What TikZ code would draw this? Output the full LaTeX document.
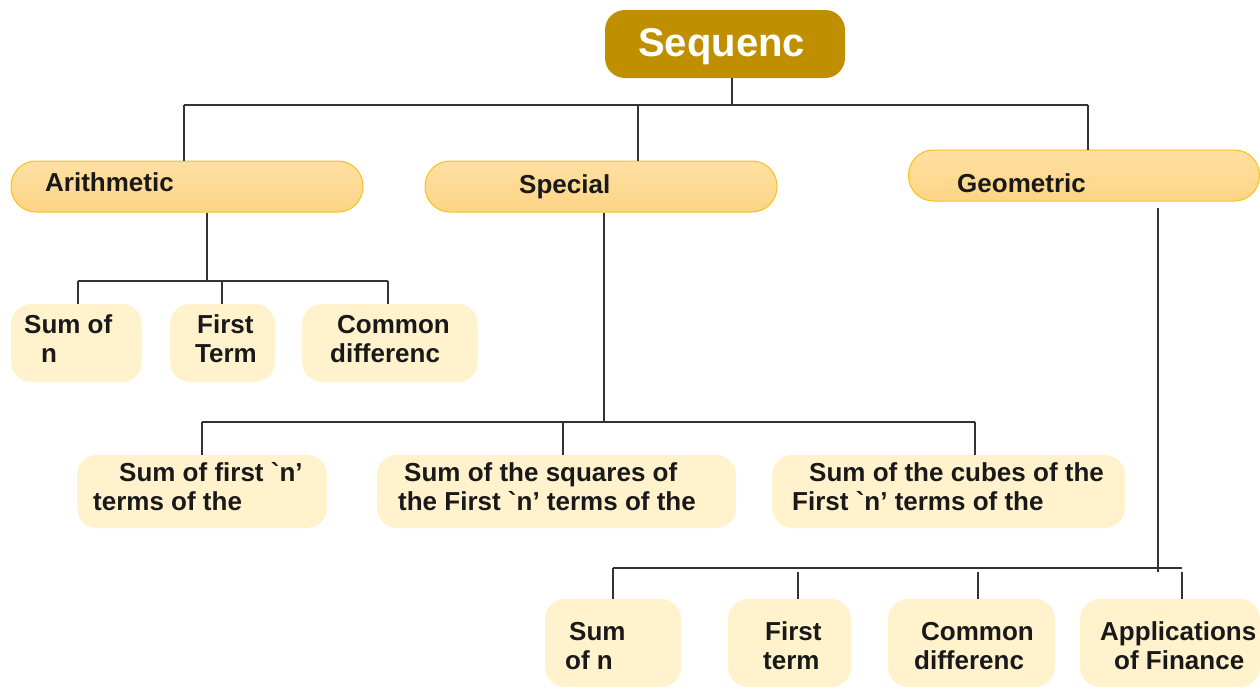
\documentclass[tikz,border=0pt]{standalone}
\usepackage{fontspec}
\setmainfont{Liberation Sans}[Ligatures=TeXOff]
\definecolor{topfill}{HTML}{C08F00}
\definecolor{lvlfillA}{HTML}{FFE0A2}
\definecolor{lvlfillB}{HTML}{FCD486}
\definecolor{lvlborder}{HTML}{F5C21C}
\definecolor{leaffill}{HTML}{FFF2CC}
\definecolor{linec}{HTML}{333333}
\tikzset{
  topbox/.style={draw=none, fill=topfill, rounded corners=20pt, inner sep=0pt},
  lvlbox/.style={draw=lvlborder, line width=1pt, top color=lvlfillA, bottom color=lvlfillB, rounded corners=25pt, inner sep=0pt},
  leafbox/.style={draw=none, fill=leaffill, rounded corners=20pt, inner sep=0pt},
  txt/.style={anchor=base west, inner sep=0pt, font=\bfseries\fontsize{26}{29}\selectfont, text=black!90},
  conn/.style={draw=linec, line width=1.2pt},
}
\newcommand{\gq}{\symbol{96}}
\begin{document}
\begin{tikzpicture}[x=1pt,y=-1pt]
\useasboundingbox (0,0) rectangle (1260,688);
% boxes
\node[topbox, minimum width=240pt, minimum height=68pt] (seq) at (725,44) {};
\node[lvlbox, minimum width=352pt, minimum height=51pt] (arith) at (187,186.5) {};
\node[lvlbox, minimum width=352pt, minimum height=51pt] (spec) at (601,186.5) {};
\node[lvlbox, minimum width=351pt, minimum height=51pt] (geo) at (1084,175.5) {};
\node[leafbox, minimum width=131pt, minimum height=78pt] (a1) at (76.5,343) {};
\node[leafbox, minimum width=105pt, minimum height=78pt] (a2) at (222.5,343) {};
\node[leafbox, minimum width=176pt, minimum height=78pt] (a3) at (390,343) {};
\node[leafbox, minimum width=250pt, minimum height=73pt] (s1) at (202,491.5) {};
\node[leafbox, minimum width=359pt, minimum height=73pt] (s2) at (556.5,491.5) {};
\node[leafbox, minimum width=353pt, minimum height=73pt] (s3) at (948.5,491.5) {};
\node[leafbox, minimum width=136pt, minimum height=88pt] (g1) at (613,643) {};
\node[leafbox, minimum width=123pt, minimum height=88pt] (g2) at (789.5,643) {};
\node[leafbox, minimum width=167pt, minimum height=88pt] (g3) at (971.5,643) {};
\node[leafbox, minimum width=180pt, minimum height=88pt] (g4) at (1170,643) {};
% texts
\node[txt, text=white, font=\bfseries\fontsize{40}{44}\selectfont] (tseq) at (638,56) {Sequenc};
\node[txt] (tarith) at (45,191) {Arithmetic};
\node[txt] (tspec) at (519,193) {Special};
\node[txt] (tgeo) at (957,192) {Geometric};
\node[txt] (ta1a) at (24,333) {Sum of};
\node[txt] (ta1b) at (41,362) {n};
\node[txt] (ta2a) at (197,333) {First};
\node[txt] (ta2b) at (195,362) {Term};
\node[txt] (ta3a) at (337,333) {Common};
\node[txt] (ta3b) at (330,362) {differenc};
\node[txt] (ts1a) at (119,481) {Sum of first \gq n’};
\node[txt] (ts1b) at (93,510) {terms of the};
\node[txt] (ts2a) at (404,481) {Sum of the squares of};
\node[txt] (ts2b) at (398,510) {the First \gq n’ terms of the};
\node[txt] (ts3a) at (809,481) {Sum of the cubes of the};
\node[txt] (ts3b) at (792,510) {First \gq n’ terms of the};
\node[txt] (tg1a) at (569,640) {Sum};
\node[txt] (tg1b) at (565,669) {of n};
\node[txt] (tg2a) at (765,640) {First};
\node[txt] (tg2b) at (763,669) {term};
\node[txt] (tg3a) at (921,640) {Common};
\node[txt] (tg3b) at (914,669) {differenc};
\node[txt] (tg4a) at (1100,640) {Applications};
\node[txt] (tg4b) at (1114,669) {of Finance};
% junctions
\coordinate (j0) at (732,105);
\coordinate (j0l) at (184,105);
\coordinate (j0m) at (638,105);
\coordinate (j0r) at (1088,105);
\coordinate (ja) at (207,281);
\coordinate (jal) at (78,281);
\coordinate (jam) at (222,281);
\coordinate (jar) at (388,281);
\coordinate (js) at (604,422);
\coordinate (jsl) at (202,422);
\coordinate (jsm) at (563,422);
\coordinate (jsr) at (975,422);
\coordinate (jgtop) at (1158,208);
\coordinate (jg) at (1158,572);
\coordinate (jgl) at (613,568);
\coordinate (jgr) at (1182,568);
\coordinate (jg2) at (798,572);
\coordinate (jg3) at (978,572);
\coordinate (jg4) at (1182,572);
% connectors
\draw[conn] (seq.south -| j0) -- (j0);
\draw[conn] (j0l) -- (j0r);
\draw[conn] (j0l) -- (j0l |- arith.north);
\draw[conn] (j0m) -- (j0m |- spec.north);
\draw[conn] (j0r) -- (j0r |- geo.north);
\draw[conn] (arith.south -| ja) -- (ja);
\draw[conn] (jal) -- (jar);
\draw[conn] (jal) -- (jal |- a1.north);
\draw[conn] (jam) -- (jam |- a2.north);
\draw[conn] (jar) -- (jar |- a3.north);
\draw[conn] (spec.south -| js) -- (js);
\draw[conn] (jsl) -- (jsr);
\draw[conn] (jsl) -- (jsl |- s1.north);
\draw[conn] (jsm) -- (jsm |- s2.north);
\draw[conn] (jsr) -- (jsr |- s3.north);
\draw[conn] (jgtop) -- (jg);
\draw[conn] (jgl) -- (jgr);
\draw[conn] (jgl) -- (jgl |- g1.north);
\draw[conn] (jg2) -- (jg2 |- g2.north);
\draw[conn] (jg3) -- (jg3 |- g3.north);
\draw[conn] (jg4) -- (jg4 |- g4.north);
\end{tikzpicture}
\end{document}
